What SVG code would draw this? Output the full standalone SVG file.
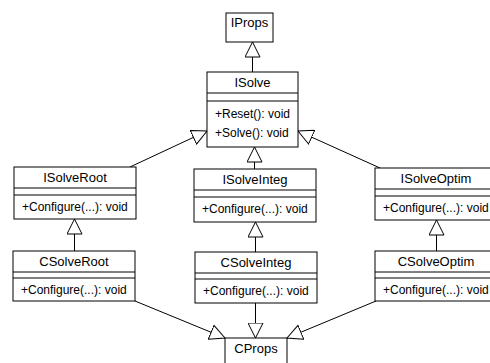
<svg xmlns="http://www.w3.org/2000/svg" width="490" height="363" viewBox="0 0 490 363">
<style>
.box{fill:#fff;stroke:#000;stroke-width:1}
.sep{stroke:#000;stroke-width:1}
.name{font-family:"Liberation Sans",Arial,sans-serif;font-size:13px;text-anchor:middle;fill:#000}
.op{font-family:"Liberation Sans",Arial,sans-serif;font-size:12px;fill:#000}
.edge{stroke:#000;stroke-width:1;fill:none;marker-end:url(#tri)}
</style>
<defs>
<marker id="tri" markerUnits="userSpaceOnUse" viewBox="0 0 16 16" refX="15.5" refY="8" markerWidth="16" markerHeight="16" orient="auto">
<path d="M0.5,0.5 L15.5,8 L0.5,15.5 Z" fill="#fff" stroke="#000" stroke-width="1"/>
</marker>
</defs>
<rect width="490" height="363" fill="#fff"/>
<g id="connectors">
<line class="edge" x1="252.5" y1="72" x2="252.5" y2="42"/>
<line class="edge" x1="130" y1="167" x2="207" y2="131"/>
<line class="edge" x1="254.5" y1="169" x2="254.5" y2="147"/>
<line class="edge" x1="380" y1="168" x2="298" y2="131"/>
<line class="edge" x1="74.5" y1="251" x2="74.5" y2="219"/>
<line class="edge" x1="255.5" y1="252" x2="255.5" y2="222"/>
<line class="edge" x1="436.5" y1="251" x2="436.5" y2="220"/>
<line class="edge" x1="135" y1="301" x2="225" y2="338"/>
<line class="edge" x1="255.5" y1="303" x2="255.5" y2="338"/>
<line class="edge" x1="376" y1="301" x2="287" y2="338"/>
</g>
<g id="IProps">
<rect class="box" x="226" y="13" width="47" height="29"/>
<text class="name" x="249.5" y="27">IProps</text>
</g>
<g id="ISolve">
<rect class="box" x="207" y="72" width="91" height="75"/>
<line class="sep" x1="207" y1="93" x2="298" y2="93"/>
<line class="sep" x1="207" y1="101" x2="298" y2="101"/>
<text class="name" x="252.5" y="87">ISolve</text>
<text class="op" x="215" y="118">+Reset(): void</text>
<text class="op" x="215" y="137">+Solve(): void</text>
</g>
<g id="ISolveRoot">
<rect class="box" x="14" y="167" width="122" height="52"/>
<line class="sep" x1="14" y1="188" x2="136" y2="188"/>
<line class="sep" x1="14" y1="195" x2="136" y2="195"/>
<text class="name" x="75" y="182">ISolveRoot</text>
<text class="op" x="22" y="211">+Configure(...): void</text>
</g>
<g id="ISolveInteg">
<rect class="box" x="194" y="169" width="122" height="53"/>
<line class="sep" x1="194" y1="190" x2="316" y2="190"/>
<line class="sep" x1="194" y1="197" x2="316" y2="197"/>
<text class="name" x="255" y="184">ISolveInteg</text>
<text class="op" x="202" y="213">+Configure(...): void</text>
</g>
<g id="ISolveOptim">
<rect class="box" x="375" y="168" width="122" height="52"/>
<line class="sep" x1="375" y1="189" x2="497" y2="189"/>
<line class="sep" x1="375" y1="196" x2="497" y2="196"/>
<text class="name" x="436" y="183">ISolveOptim</text>
<text class="op" x="383" y="212">+Configure(...): void</text>
</g>
<g id="CSolveRoot">
<rect class="box" x="13" y="251" width="122" height="50"/>
<line class="sep" x1="13" y1="272" x2="135" y2="272"/>
<line class="sep" x1="13" y1="278" x2="135" y2="278"/>
<text class="name" x="74" y="266">CSolveRoot</text>
<text class="op" x="21" y="294">+Configure(...): void</text>
</g>
<g id="CSolveInteg">
<rect class="box" x="195" y="252" width="122" height="51"/>
<line class="sep" x1="195" y1="273" x2="317" y2="273"/>
<line class="sep" x1="195" y1="279" x2="317" y2="279"/>
<text class="name" x="256" y="267">CSolveInteg</text>
<text class="op" x="203" y="295">+Configure(...): void</text>
</g>
<g id="CSolveOptim">
<rect class="box" x="375" y="251" width="122" height="50"/>
<line class="sep" x1="375" y1="272" x2="497" y2="272"/>
<line class="sep" x1="375" y1="278" x2="497" y2="278"/>
<text class="name" x="436" y="266">CSolveOptim</text>
<text class="op" x="383" y="294">+Configure(...): void</text>
</g>
<g id="CProps">
<rect class="box" x="225" y="338" width="62" height="30"/>
<text class="name" x="256" y="353">CProps</text>
</g>
</svg>
